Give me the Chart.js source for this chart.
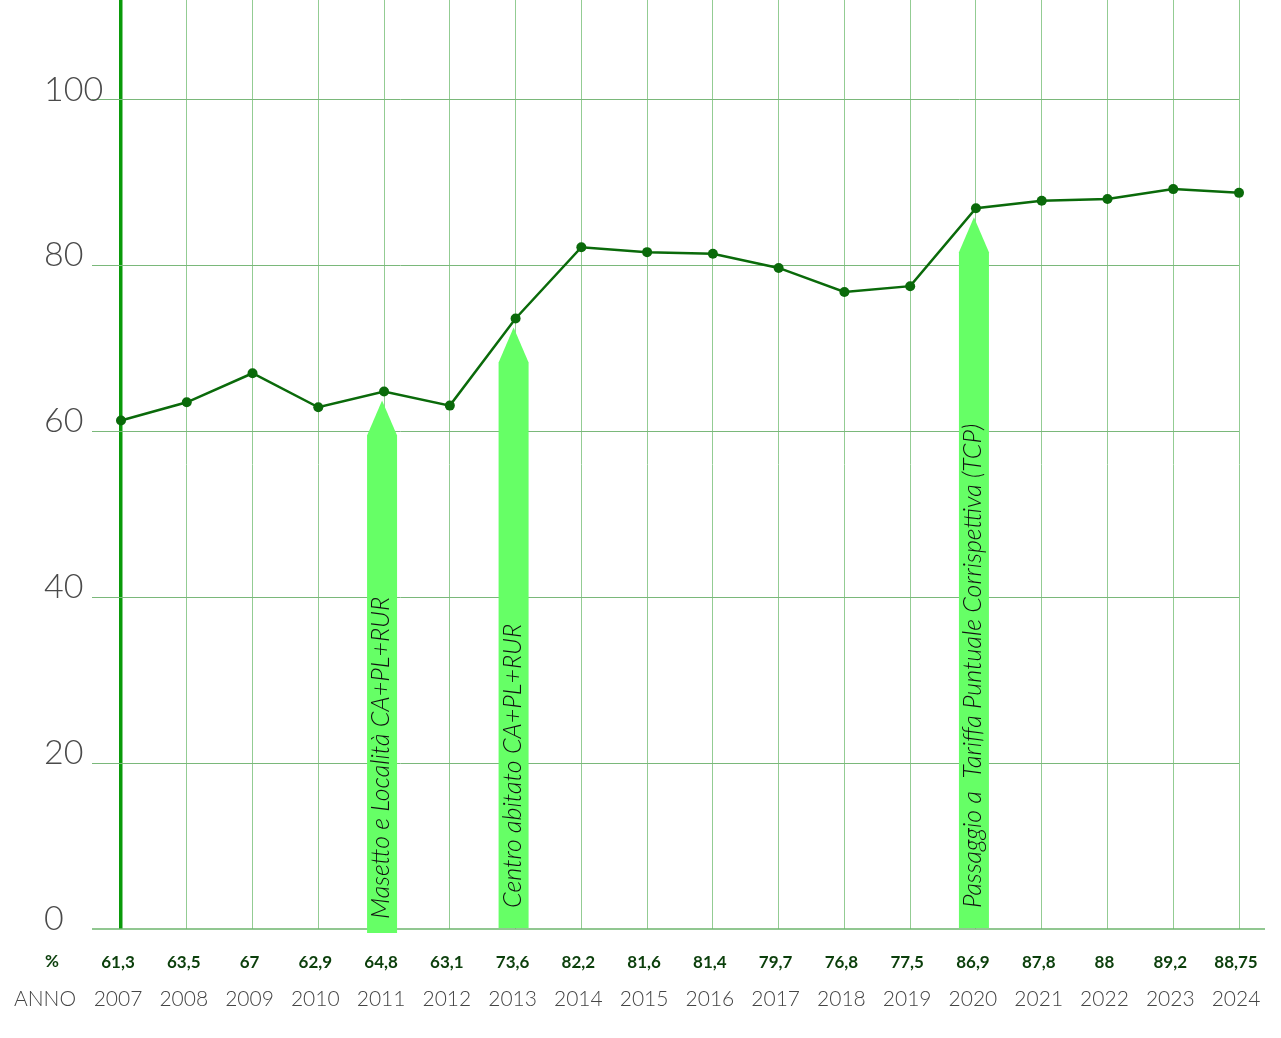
<!DOCTYPE html>
<html lang="it">
<head>
<meta charset="utf-8">
<title>Raccolta differenziata %</title>
<script src="https://cdn.jsdelivr.net/npm/chart.js@4.4.1/dist/chart.umd.min.js"></script>
<style>
  html, body { margin: 0; padding: 0; background: #fff; }
  #wrap { position: relative; width: 1281px; height: 1038px; }
</style>
</head>
<body>
<div id="wrap"><canvas id="chart"></canvas></div>
<script>
// Dati del grafico
const anni = ['2007','2008','2009','2010','2011','2012','2013','2014','2015','2016','2017','2018','2019','2020','2021','2022','2023','2024'];
const percentuali = [61.3, 63.5, 67, 62.9, 64.8, 63.1, 73.6, 82.2, 81.6, 81.4, 79.7, 76.8, 77.5, 86.9, 87.8, 88, 89.2, 88.75];
const etichettePerc = ['61,3','63,5','67','62,9','64,8','63,1','73,6','82,2','81,6','81,4','79,7','76,8','77,5','86,9','87,8','88','89,2','88,75'];
const tickY = [0, 20, 40, 60, 80, 100];

// Frecce con le fasi del servizio
const frecceAnni = ['2011', '2013', '2020'];
const frecceTesti = ['Masetto e Località CA+PL+RUR', 'Centro abitato CA+PL+RUR', 'Passaggio a  Tariffa Puntuale Corrispettiva (TCP)'];

const VERDE_LINEA = '#0a6a0a';
const VERDE_FRECCIA = '#66ff66';

// Plugin: frecce, etichette asse y, righe in basso
const decorazioni = {
  id: 'decorazioni',
  beforeDatasetsDraw(chart) {
    const { ctx } = chart;
    const xs = chart.scales.x, ys = chart.scales.y;

    // linea di base
    ctx.save();
    ctx.strokeStyle = '#6db46d';
    ctx.lineWidth = 1.5;
    ctx.beginPath();
    ctx.moveTo(92, ys.getPixelForValue(0));
    ctx.lineTo(1265, ys.getPixelForValue(0));
    ctx.stroke();

    // frecce
    frecceAnni.forEach((anno, k) => {
      const i = anni.indexOf(anno);
      const cx = xs.getPixelForValue(i) - 2;
      const tip = ys.getPixelForValue(percentuali[i]) + 9;
      const base = ys.getPixelForValue(0) + (k === 0 ? 4 : -1);
      const w = 15, head = 35;
      ctx.fillStyle = VERDE_FRECCIA;
      ctx.beginPath();
      ctx.moveTo(cx, tip);
      ctx.lineTo(cx + w, tip + head);
      ctx.lineTo(cx + w, base);
      ctx.lineTo(cx - w, base);
      ctx.lineTo(cx - w, tip + head);
      ctx.closePath();
      ctx.fill();

      ctx.save();
      ctx.translate(cx - 1, base - (k === 0 ? 14 : 20));
      ctx.rotate(-Math.PI / 2);
      ctx.fillStyle = '#111';
      ctx.font = 'italic 300 25px Lato, "Open Sans", sans-serif';
      ctx.textAlign = 'left';
      ctx.textBaseline = 'middle';
      ctx.fillText(frecceTesti[k], 0, 0);
      ctx.restore();
    });
    ctx.restore();
  },
  afterDraw(chart) {
    const { ctx } = chart;
    const xs = chart.scales.x, ys = chart.scales.y;
    ctx.save();

    // etichette asse y sopra le linee
    ctx.fillStyle = '#4a4a4a';
    ctx.font = '300 34px Lato, sans-serif';
    ctx.textAlign = 'left';
    ctx.textBaseline = 'alphabetic';
    tickY.forEach(v => {
      ctx.fillText(String(v), 44, ys.getPixelForValue(v) + 1);
    });

    // riga percentuali
    ctx.textBaseline = 'middle';
    ctx.fillStyle = '#0b3f0b';
    ctx.font = 'bold 17px Lato, sans-serif';
    ctx.fillText('%', 45, 962);
    ctx.textAlign = 'center';
    etichettePerc.forEach((t, i) => ctx.fillText(t, xs.getPixelForValue(i) - 3, 963));

    // riga anni
    ctx.fillStyle = '#444';
    ctx.font = '300 21px Lato, sans-serif';
    ctx.textAlign = 'left';
    ctx.fillText('ANNO', 14, 999);
    ctx.textAlign = 'center';
    anni.forEach((a, i) => ctx.fillText(a, xs.getPixelForValue(i) - 3, 999));
    ctx.restore();
  }
};

new Chart(document.getElementById('chart'), {
  type: 'line',
  data: {
    labels: anni,
    datasets: [{
      label: '%',
      data: percentuali,
      borderColor: VERDE_LINEA,
      backgroundColor: VERDE_LINEA,
      borderWidth: 2.5,
      pointRadius: 5,
      pointHoverRadius: 5,
      pointBackgroundColor: VERDE_LINEA,
      pointBorderWidth: 0,
      tension: 0,
      fill: false,
      clip: false
    }]
  },
  options: {
    responsive: true,
    maintainAspectRatio: false,
    animation: false,
    layout: { autoPadding: false, padding: { top: 0, right: 42, bottom: 109, left: 0 } },
    plugins: { legend: { display: false }, tooltip: { enabled: false } },
    scales: {
      x: {
        type: 'category',
        offset: false,
        border: { display: false },
        ticks: { display: false },
        grid: {
          drawTicks: false,
          color: ctx => ctx.index === 0 ? '#0a9a0a' : '#93cc93',
          lineWidth: ctx => ctx.index === 0 ? 3.5 : 1
        }
      },
      y: {
        min: 0,
        max: 112,
        afterBuildTicks: scale => { scale.ticks = tickY.filter(v => v > 0).map(v => ({ value: v })); },
        afterFit: scale => { scale.width = 121; },
        border: { display: false },
        ticks: { display: false },
        grid: {
          drawTicks: true,
          tickLength: 29,
          color: '#7ab87a',
          lineWidth: 1
        }
      }
    }
  },
  plugins: [decorazioni]
});
</script>
</body>
</html>
